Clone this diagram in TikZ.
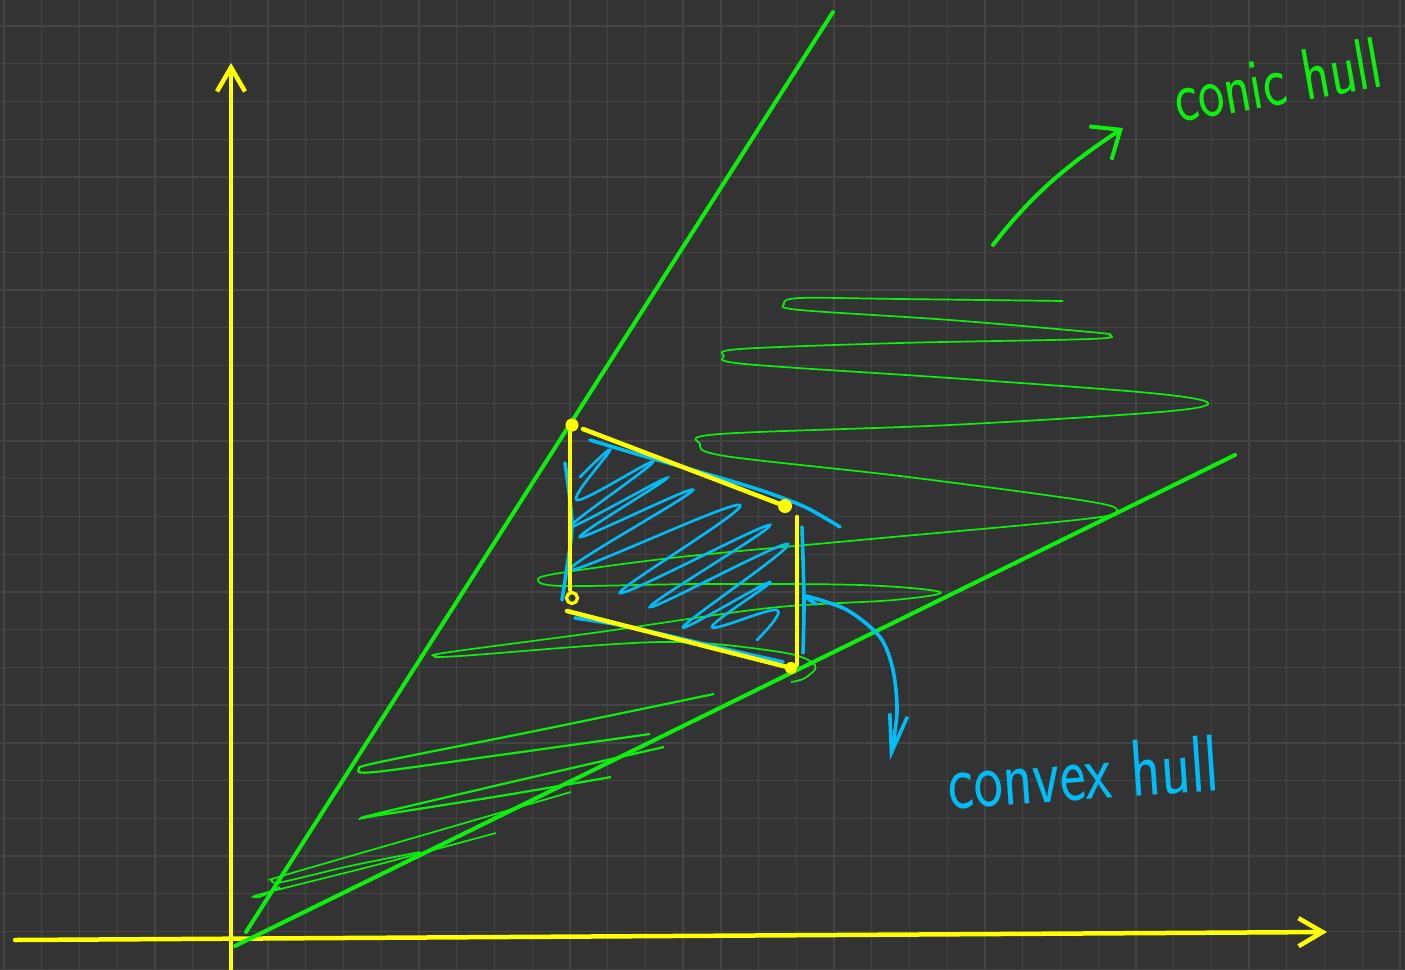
\documentclass[tikz,border=0pt]{standalone}
\usepackage{tikz}
\usetikzlibrary{arrows.meta}

\definecolor{board}{HTML}{333333}
\definecolor{gridgray}{HTML}{444444}
\definecolor{penyellow}{HTML}{FFFF00}
\definecolor{pengreen}{HTML}{0DF00D}
\definecolor{penblue}{HTML}{00BDF8}

\tikzset{
  gridline/.style={gridgray, line width=1.3pt},
  axisline/.style={penyellow, line width=4.5pt, line cap=round, line join=round,
    -{Straight Barb[length=24pt,width=28pt]}},
  conebound/.style={pengreen, line width=4pt, line cap=round},
  spiral/.style={pengreen, line width=1.7pt},
  hulledge/.style={penyellow, line width=4.5pt, line cap=round},
  hullpen/.style={penblue, line width=3.6pt, line cap=round, line join=round},
  hatchpen/.style={penblue, line width=2.6pt, line cap=round},
  handtext/.style={inner sep=0pt},
}

\begin{document}
\begin{tikzpicture}[x=1pt,y=-1pt]
  \fill[board] (0,0) rectangle (1405,969);
  \useasboundingbox (0,0) rectangle (1405,969);

  % background grid
  \foreach \k in {0,...,37}
    \draw[gridline] ({4+37.73*\k},0) -- ({4+37.73*\k},969);
  \foreach \k in {0,...,25}
    \draw[gridline] (0,{26+37.73*\k}) -- (1405,{26+37.73*\k});

  % axes
  \coordinate (ybase) at (231,969);
  \coordinate (ytip) at (231,63);
  \coordinate (xbase) at (15,940);
  \coordinate (xtip) at (1327,932);
  \draw[axisline] (ybase) -- (ytip);
  \draw[axisline] (xbase) -- (xtip);

  % cone boundaries
  \coordinate (coneA0) at (246,932);
  \coordinate (coneA1) at (833,12);
  \coordinate (coneB0) at (235,946);
  \coordinate (coneB1) at (1235,455);
  \draw[conebound] (coneA0) -- (coneA1);
  \draw[conebound] (coneB0) -- (coneB1);

  % conic hull scribble
  \draw[spiral] plot[smooth, tension=0.55] coordinates {
    (1063,301) (900,299) (800,298) (784,304) (800,310) (950,320) (1090,332)
    (1110,335) (1090,339) (900,343) (740,349) (724,356) (745,364) (950,378)
    (1150,393) (1208,403) (1160,412) (950,425) (720,434) (700,444) (725,456)
    (900,476) (1080,500) (1117,510) (1085,519) (860,540) (680,557) (560,573)
    (538,580) (563,586) (700,584) (860,585) (940,592) (894,600) (769,608)
    (600,632) (450,652) (435,656) (460,656) (661,642) (780,652) (815,665)
    (805,678) (791,682)};
  \draw[spiral, line width=2.2pt] plot[smooth, tension=0.55] coordinates {
    (714,694) (540,730) (380,762) (359,769) (375,772) (500,755) (650,734)};
  \draw[spiral, line width=2.2pt] plot[smooth, tension=0.55] coordinates {
    (664,747) (520,780) (380,813) (362,818) (380,815) (500,796) (611,777)};
  \draw[spiral] plot[smooth, tension=0.55] coordinates {
    (571,792) (420,836) (285,875) (272,880) (282,882) (350,866) (420,852)};
  \draw[spiral] plot[smooth, tension=0.55] coordinates {
    (496,833) (380,864) (265,893) (255,897) (262,896) (280,887)};

  % convex hull of the points
  \coordinate (hA) at (572,425);
  \coordinate (hB) at (785,506);
  \coordinate (hC) at (791,668);
  \coordinate (hD) at (572,598);
  \draw[hatchpen] plot[smooth, tension=0.65] coordinates {
    (580,477) (610,450) (577,500) (653,462) (570,527) (667,478) (580,537)
    (693,490) (570,570) (740,505) (620,593) (770,525) (650,607) (788,544)
    (683,627) (770,582) (712,627) (777,610) (757,640)};
  \draw[hullpen] plot[smooth] coordinates {(590,440) (640,455) (700,472) (760,490) (805,507) (840,527)};
  \draw[hullpen] plot[smooth] coordinates {(565,463) (572,523) (567,567) (562,600)};
  \draw[hullpen] plot[smooth] coordinates {(575,618) (630,627) (730,650) (783,662)};
  \draw[hullpen] plot[smooth] coordinates {(802,527) (804,600) (803,653)};

  \draw[hulledge] (583,429) -- (hB);
  \draw[hulledge] (797,517) -- (797,665);
  \draw[hulledge] (567,611) -- (hC);
  \draw[hulledge] (570,427) -- (570,590);
  \fill[penyellow] (hA) circle[radius=6.5pt];
  \fill[penyellow] (hB) circle[radius=7pt];
  \fill[penyellow] (hC) circle[radius=6pt];
  \draw[penyellow, line width=3.2pt] (hD) circle[radius=5.5pt];

  % labels with their arrows
  \node[handtext, pengreen, rotate=10, font=\sffamily\fontsize{56}{56}\selectfont]
    (conic) at (1277,80) {\scalebox{1}[1.3]{conic hull}};
  \draw[pengreen, line width=4pt, line cap=round,
    -{Straight Barb[length=24pt,width=40pt]}]
    (993,245) .. controls (1035,190) and (1075,160) .. (1123,128);

  \node[handtext, penblue, rotate=4, font=\sffamily\fontsize{62}{62}\selectfont]
    (convex) at (1083,772) {\scalebox{1}[1.3]{convex hull}};
  \draw[hullpen, -{Straight Barb[length=38pt,width=18pt]}]
    plot[smooth] coordinates {(816,604) (806,596) (847,610) (880,637) (893,670) (897,713) (890,760)};
\end{tikzpicture}
\end{document}
